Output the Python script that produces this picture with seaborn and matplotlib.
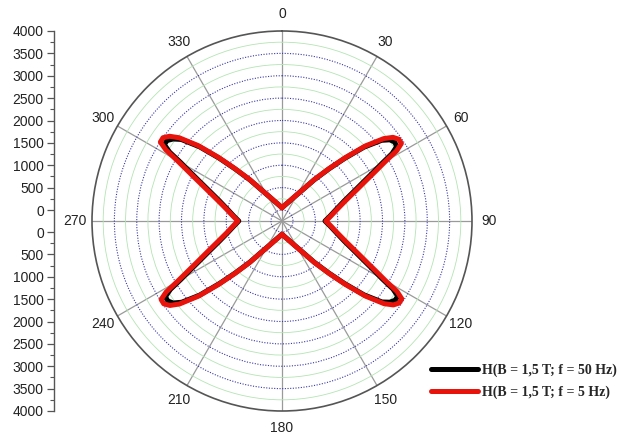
import numpy as np
import pandas as pd
import matplotlib
matplotlib.use("Agg")
import matplotlib.pyplot as plt
import seaborn as sns
from matplotlib.ticker import FixedLocator, NullFormatter

# --- DATA ---
angle_deg = [0, 10, 20, 28, 34, 38, 42, 45, 48, 51, 53, 55, 57, 58.5, 60, 62, 64, 67, 72, 78, 84,
             90, 96, 102, 108, 113, 116, 118, 120, 121.5, 123, 125, 127, 129, 132, 135, 138, 142, 146, 152, 160, 170,
             180, 190, 200, 208, 214, 218, 222, 225, 228, 231, 233, 235, 237, 238.5, 240, 242, 244, 247, 252, 258, 264,
             270, 276, 282, 288, 293, 296, 298, 300, 301.5, 303, 305, 307, 309, 312, 315, 318, 322, 326, 332, 340, 350, 360]

h_50hz = [50, 110, 215, 380, 615, 920, 1320, 1730, 2220, 2620, 2770, 2830, 2810, 2640, 2340, 2050, 1810, 1540, 1220, 990, 835,
          715, 835, 990, 1220, 1540, 1810, 2050, 2340, 2660, 2840, 2840, 2770, 2630, 2220, 1730, 1320, 920, 615, 380, 215, 110,
          50, 110, 215, 380, 615, 920, 1320, 1730, 2230, 2640, 2800, 2870, 2860, 2680, 2360, 2060, 1820, 1550, 1230, 990, 835,
          720, 840, 995, 1230, 1550, 1830, 2070, 2370, 2700, 2890, 2890, 2800, 2650, 2230, 1740, 1320, 920, 615, 380, 215, 110, 50]

h_5hz = [50, 115, 220, 385, 625, 935, 1340, 1760, 2260, 2680, 2860, 2940, 2935, 2760, 2430, 2120, 1870, 1590, 1260, 1015, 855,
         735, 855, 1015, 1260, 1590, 1870, 2120, 2430, 2770, 2945, 2950, 2870, 2690, 2260, 1760, 1340, 935, 625, 385, 220, 115,
         50, 115, 220, 385, 625, 935, 1340, 1760, 2260, 2700, 2890, 2980, 2975, 2790, 2450, 2130, 1880, 1600, 1270, 1015, 855,
         740, 860, 1020, 1270, 1600, 1890, 2140, 2460, 2800, 2995, 3000, 2900, 2710, 2270, 1770, 1340, 935, 625, 385, 220, 115, 50]

label_50 = "H(B = 1,5 T; f = 50 Hz)"
label_5 = "H(B = 1,5 T; f = 5 Hz)"

theta_ticks = list(range(0, 360, 30))
r_max = 4000
r_major = list(range(0, 4000, 500))
r_minor = list(range(250, 4000, 500))
left_labels = list(range(0, 4001, 500))

# --- STYLE ---
sns.set_theme(style="white")
plt.rcParams["font.family"] = ["Liberation Sans", "DejaVu Sans"]

df = pd.concat([
    pd.DataFrame({"theta": np.deg2rad(angle_deg), "H": h_50hz, "series": label_50}),
    pd.DataFrame({"theta": np.deg2rad(angle_deg), "H": h_5hz, "series": label_5}),
], ignore_index=True)

fig = plt.figure(figsize=(6.24, 4.42), dpi=100)
W, Hpx = 624, 442
cx, cy, rad = 282, 221, 190
hole = 11  # px between centre and r = 0
r_off = -r_max * hole / (rad - hole)

ax = fig.add_axes([(cx - rad) / W, (Hpx - cy - rad) / Hpx, 2 * rad / W, 2 * rad / Hpx], projection="polar")
ax.set_theta_zero_location("N")
ax.set_theta_direction(-1)
ax.set_ylim(r_off, r_max)

sns.lineplot(data=df, x="theta", y="H", hue="series", hue_order=[label_50, label_5],
             palette={label_50: "black", label_5: "#e8140c"}, sort=False, estimator=None,
             linewidth=3.6, ax=ax)
for ln in ax.get_lines():
    ln.set_solid_joinstyle("round")

# grids
ax.grid(False)
ax.set_xticks(np.deg2rad(theta_ticks))
ax.set_xticklabels([str(t) for t in theta_ticks])
ax.xaxis.set_minor_locator(FixedLocator(np.deg2rad(np.arange(15, 360, 30))))
ax.yaxis.set_major_locator(FixedLocator(r_major))
ax.yaxis.set_minor_locator(FixedLocator(r_minor))
ax.yaxis.set_major_formatter(NullFormatter())
ax.yaxis.set_minor_formatter(NullFormatter())
ax.xaxis.grid(True, which="major", color="#9a9a9a", linewidth=0.9, linestyle="-")
ax.yaxis.grid(True, which="major", color="#3a3aa8", linewidth=0.8, linestyle=(0, (1, 1.4)))
ax.yaxis.grid(True, which="minor", color="#b4e4b4", linewidth=0.6, linestyle="-")
ax.tick_params(axis="x", which="major", length=0, pad=5, labelsize=10, labelcolor="#222222")
ax.tick_params(axis="x", which="minor", direction="in", length=4, width=0.9, color="#555555")
ax.tick_params(axis="y", which="both", length=0)
ax.spines["polar"].set_color("#555555")
ax.spines["polar"].set_linewidth(1.2)
ax.set_xlabel("")
ax.set_ylabel("")
ax.set_facecolor("white")

sns.move_legend(ax, "center left", bbox_to_anchor=(431 / W, 1 - 381 / Hpx),
                bbox_transform=fig.transFigure, frameon=False, title=None,
                prop={"family": "Liberation Serif", "weight": "bold", "size": 10},
                handlelength=3.4, handletextpad=0.3, labelspacing=0.6,
                borderpad=0, borderaxespad=0)

# left linear scale (two halves mirrored around the centre)
axl = fig.add_axes([53.5 / W, (Hpx - cy - rad) / Hpx, 0.001, 2 * rad / Hpx])
axl.set_ylim(-(r_max - r_off), r_max - r_off)
pos = [v - r_off for v in left_labels]
neg = [-(v - r_off) for v in left_labels]
axl.yaxis.set_major_locator(FixedLocator(pos + neg))
axl.set_yticklabels([str(v) for v in left_labels] * 2)
axl.yaxis.set_minor_locator(FixedLocator([v + 250 - r_off for v in left_labels[:-1]] +
                                         [-(v + 250 - r_off) for v in left_labels[:-1]]))
axl.set_xticks([])
for s in ["top", "right", "bottom"]:
    axl.spines[s].set_visible(False)
axl.spines["left"].set_color("#555555")
axl.spines["left"].set_linewidth(1.0)
axl.tick_params(axis="y", which="major", direction="out", length=5, width=0.9, color="#555555",
                labelsize=10, labelcolor="#222222", pad=2, left=True)
axl.tick_params(axis="y", which="minor", direction="out", length=3, width=0.8, color="#555555", left=True)

fig.savefig("out.png", dpi=100)
